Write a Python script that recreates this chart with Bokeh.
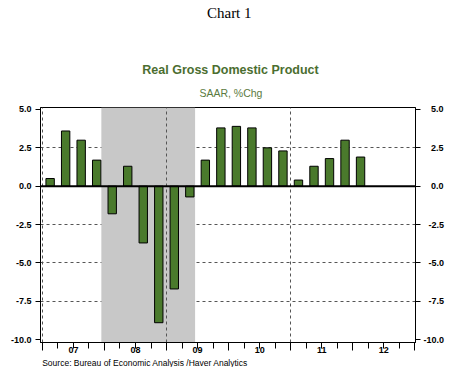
from bokeh.plotting import figure
from bokeh.layouts import column
from bokeh.models import (FixedTicker, LinearAxis, BoxAnnotation, Span,
                          Range1d, NumeralTickFormatter, Title)
from bokeh.core.properties import value
from bokeh.embed import file_html
from bokeh.resources import INLINE

# ---- data ----
quarters = ["2007Q1", "2007Q2", "2007Q3", "2007Q4",
            "2008Q1", "2008Q2", "2008Q3", "2008Q4",
            "2009Q1", "2009Q2", "2009Q3", "2009Q4",
            "2010Q1", "2010Q2", "2010Q3", "2010Q4",
            "2011Q1", "2011Q2", "2011Q3", "2011Q4",
            "2012Q1"]
gdp = [0.5, 3.6, 3.0, 1.7,
       -1.8, 1.3, -3.7, -8.9,
       -6.7, -0.7, 1.7, 3.8,
       3.9, 3.8, 2.5, 2.3,
       0.4, 1.3, 1.8, 3.0,
       1.9]
years = [2007, 2008, 2009, 2010, 2011, 2012]
year_labels = ["07", "08", "09", "10", "11", "12"]
y_ticks = [-10.0, -7.5, -5.0, -2.5, 0.0, 2.5, 5.0]
y_tick_labels = ["-10.0", "-7.5", "-5.0", "-2.5", "0.0", "2.5", "5.0"]
recession_start = 2007.95   # Dec 2007
recession_end = 2009.46     # Jun 2009
chart_title = "Chart 1"
main_title = "Real Gross Domestic Product"
sub_title = "SAAR, %Chg"
source_text = "Source:  Bureau of Economic Analysis /Haver Analytics"

# quarter midpoints in decimal years
xs = [int(q[:4]) + (int(q[-1]) - 1) * 0.25 + 0.125 for q in quarters]

FONT = "Liberation Sans"
GREEN = "#4a7a2c"
W = 449

# ---- header with titles ----
head = figure(width=W, height=100, x_range=Range1d(0, W), y_range=Range1d(100, 0),
              output_backend="svg", toolbar_location=None,
              x_axis_location=None, y_axis_location=None, min_border=0)
head.outline_line_color = None
head.grid.visible = False
head.text(x=[226], y=[12], text=[chart_title], text_font=value("Liberation Serif"),
          text_font_size="15px", text_color="black", text_align="center",
          text_baseline="alphabetic")
head.text(x=[227.5], y=[69], text=[main_title], text_font=value(FONT),
          text_font_size="12.5px", text_font_style="bold", text_color="#4b6e30",
          text_align="center", text_baseline="alphabetic")
head.text(x=[228], y=[92], text=[sub_title], text_font=value(FONT),
          text_font_size="10.5px", text_color="#5a7a40", text_align="center",
          text_baseline="alphabetic")

# ---- main chart ----
p = figure(width=W, height=267,
           x_range=Range1d(2006.97, 2013.01), y_range=Range1d(-10.19, 5.13),
           output_backend="svg", toolbar_location=None,
           min_border_left=40, min_border_right=34,
           min_border_top=7, min_border_bottom=25)
p.background_fill_color = "white"
p.border_fill_color = "white"
p.outline_line_color = "black"
p.outline_line_width = 1

# recession shading
p.add_layout(BoxAnnotation(left=recession_start, right=recession_end,
                           fill_color="#c8c8c8", fill_alpha=1.0, line_color=None,
                           level="underlay"))

# grids
p.ygrid.ticker = FixedTicker(ticks=[t for t in y_ticks if t not in (0.0, 5.0, -10.0)])
p.ygrid.grid_line_color = "#555555"
p.ygrid.grid_line_dash = "3 3"
p.xgrid.ticker = FixedTicker(ticks=years[::2])
p.xgrid.grid_line_color = "#555555"
p.xgrid.grid_line_dash = "3 3"
p.xgrid.level = "glyph"

# bars
p.vbar(x=xs, top=gdp, bottom=0, width=0.135,
       fill_color=GREEN, line_color="black", line_width=1)

# zero line
p.add_layout(Span(location=0, dimension="width", line_color="black", line_width=2))


def style_y(ax, standoff):
    ax.ticker = FixedTicker(ticks=y_ticks)
    ax.formatter = NumeralTickFormatter(format="0.0")
    ax.major_tick_out = 5
    ax.major_tick_in = 0
    ax.minor_tick_out = 0
    ax.minor_tick_in = 0
    ax.major_label_standoff = standoff
    ax.major_label_text_font = FONT
    ax.major_label_text_font_size = "9px"
    ax.major_label_text_font_style = "bold"
    ax.major_label_text_color = "black"
    ax.axis_line_color = "black"
    ax.major_tick_line_color = "black"


style_y(p.yaxis[0], 4)
right = LinearAxis()
style_y(right, 3)
# pad right-hand labels so they line up on the right like the original
pads = {5: "", 4: "\u2007", 3: "\u2007\u2008"}
right.major_label_overrides = {t: pads.get(len(s), "") + s for t, s in zip(y_ticks, y_tick_labels)}
p.add_layout(right, "right")

# x axis: year-boundary (tall) and quarter (short) ticks
xa = p.xaxis[0]
bounds = years + [years[-1] + 1]
quarter_ticks = [y + q * 0.25 for y in years for q in range(4)] + [bounds[-1]]
xa.ticker = FixedTicker(ticks=bounds, minor_ticks=quarter_ticks)
xa.major_label_overrides = {y: "" for y in bounds}
xa.major_label_text_font_size = "1px"
xa.major_label_standoff = 0
xa.major_tick_out = 8
xa.major_tick_in = 0
xa.minor_tick_out = 6
xa.minor_tick_in = 0
xa.axis_line_color = "black"
xa.major_tick_line_color = "black"
xa.minor_tick_line_color = "black"

# year labels at mid-year
xl = LinearAxis()
mid = [y + 0.5 for y in years]
xl.ticker = FixedTicker(ticks=mid)
xl.major_label_overrides = {m: lab for m, lab in zip(mid, year_labels)}
xl.major_tick_out = 0
xl.major_tick_in = 0
xl.minor_tick_out = 0
xl.minor_tick_in = 0
xl.axis_line_color = None
xl.major_label_standoff = -4
xl.major_label_text_font = FONT
xl.major_label_text_font_size = "9px"
xl.major_label_text_font_style = "bold"
xl.major_label_text_color = "black"
p.add_layout(xl, "below")

# source line under the axis
p.add_layout(Title(text=source_text, align="left", offset=1.7, standoff=0,
                   text_font=FONT, text_font_size="8.5px", text_font_style="normal",
                   text_color="black"), "below")

layout = column(head, p, spacing=0)
open("out.html", "w").write(file_html(layout, INLINE))
